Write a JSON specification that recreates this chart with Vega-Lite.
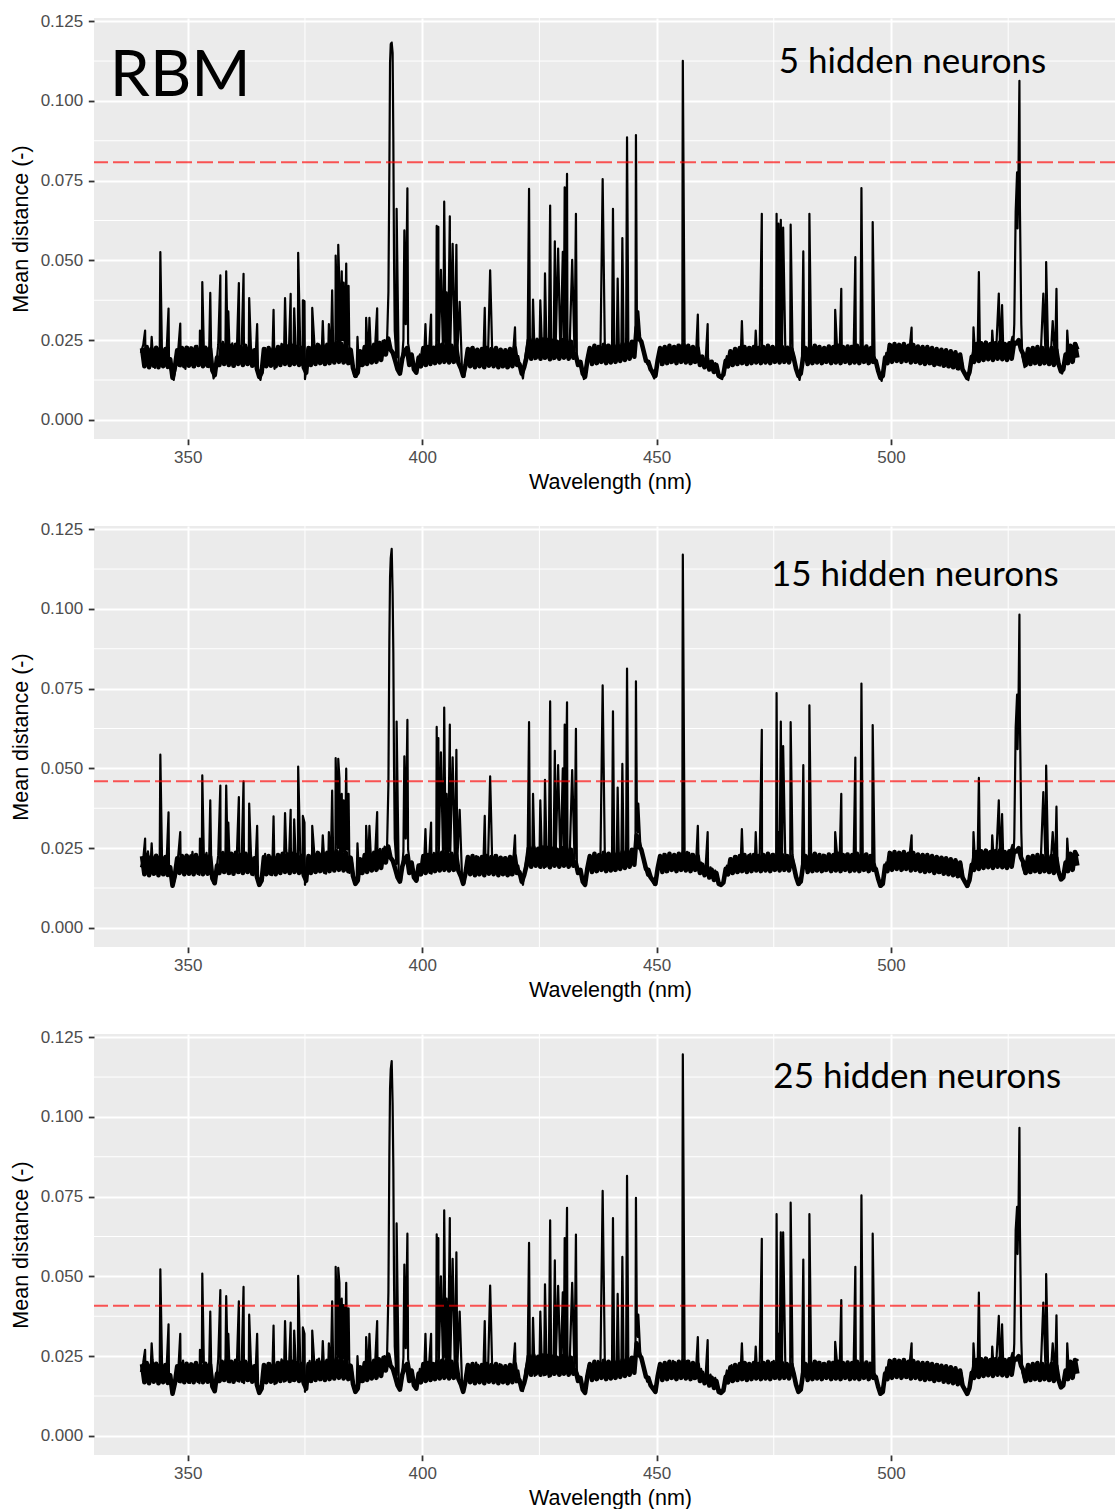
{
"$schema": "https://vega.github.io/schema/vega-lite/v6.json",
"padding": {"left": 10, "top": 12, "right": 0, "bottom": 0},
"bounds": "flush",
"spacing": 87,
"config": {
 "view": {"fill": "#EBEBEB", "stroke": null},
 "axis": {"domain": false, "grid": true, "gridColor": "#FFFFFF", "gridWidth": 2, "tickColor": "#333333", "tickWidth": 1.8, "tickSize": 5.7, "labelColor": "#4D4D4D", "labelFont": "Liberation Sans", "labelFontSize": 17, "titleFont": "Liberation Sans", "titleFontSize": 21.5, "titleFontWeight": "normal", "titleColor": "#000000"},
 "axisY": {"labelPadding": 5.6, "titlePadding": 6.5, "minExtent": 55, "maxExtent": 55},
 "axisX": {"labelPadding": 4.7, "titlePadding": 6}
},
"datasets": {
 "one": [{}],
 "mx": [{"mx": 375}, {"mx": 425}, {"mx": 475}, {"mx": 525}],
 "my": [{"my": 0.0125}, {"my": 0.0375}, {"my": 0.0625}, {"my": 0.0875}, {"my": 0.1125}],
 "fill": [
{"w":340.25,"v":0.0225},{"w":340.75,"v":0.0168},{"w":341.25,"v":0.0228},{"w":341.75,"v":0.0165},
{"w":342.25,"v":0.0222},{"w":342.75,"v":0.017},{"w":343.25,"v":0.0226},{"w":343.75,"v":0.0165},
{"w":344.25,"v":0.0224},{"w":344.75,"v":0.0168},{"w":345.25,"v":0.0222},{"w":345.75,"v":0.0166},
{"w":346.25,"v":0.019},{"w":346.75,"v":0.0132},{"w":347.25,"v":0.0165},{"w":347.75,"v":0.0218},
{"w":348.25,"v":0.0172},{"w":348.75,"v":0.0225},{"w":349.25,"v":0.0168},{"w":349.75,"v":0.0226},
{"w":350.25,"v":0.017},{"w":350.75,"v":0.0224},{"w":351.25,"v":0.0168},{"w":351.75,"v":0.0228},
{"w":352.25,"v":0.0172},{"w":352.75,"v":0.0222},{"w":353.25,"v":0.0168},{"w":353.75,"v":0.0226},
{"w":354.25,"v":0.017},{"w":354.75,"v":0.0224},{"w":355.25,"v":0.0155},{"w":355.75,"v":0.014},
{"w":356.25,"v":0.0195},{"w":356.75,"v":0.0172},{"w":357.25,"v":0.0232},{"w":357.75,"v":0.0175},
{"w":358.25,"v":0.0235},{"w":358.75,"v":0.0172},{"w":359.25,"v":0.0232},{"w":359.75,"v":0.017},
{"w":360.25,"v":0.0235},{"w":360.75,"v":0.0175},{"w":361.25,"v":0.0228},{"w":361.75,"v":0.0172},
{"w":362.25,"v":0.0232},{"w":362.75,"v":0.0175},{"w":363.25,"v":0.0225},{"w":363.75,"v":0.017},
{"w":364.25,"v":0.0218},{"w":364.75,"v":0.016},{"w":365.25,"v":0.0135},{"w":365.75,"v":0.0148},
{"w":366.25,"v":0.0222},{"w":366.75,"v":0.0168},{"w":367.25,"v":0.0225},{"w":367.75,"v":0.017},
{"w":368.25,"v":0.0222},{"w":368.75,"v":0.0168},{"w":369.25,"v":0.0228},{"w":369.75,"v":0.0172},
{"w":370.25,"v":0.0232},{"w":370.75,"v":0.0175},{"w":371.25,"v":0.023},{"w":371.75,"v":0.0172},
{"w":372.25,"v":0.0232},{"w":372.75,"v":0.0175},{"w":373.25,"v":0.0228},{"w":373.75,"v":0.0172},
{"w":374.25,"v":0.0225},{"w":374.75,"v":0.0165},{"w":375.25,"v":0.0148},{"w":375.75,"v":0.0225},
{"w":376.25,"v":0.0172},{"w":376.75,"v":0.0232},{"w":377.25,"v":0.0175},{"w":377.75,"v":0.0235},
{"w":378.25,"v":0.0178},{"w":378.75,"v":0.0232},{"w":379.25,"v":0.0175},{"w":379.75,"v":0.0235},
{"w":380.25,"v":0.0178},{"w":380.75,"v":0.0238},{"w":381.25,"v":0.018},{"w":381.75,"v":0.024},
{"w":382.25,"v":0.0182},{"w":382.75,"v":0.0238},{"w":383.25,"v":0.018},{"w":383.75,"v":0.0235},
{"w":384.25,"v":0.0178},{"w":384.75,"v":0.022},{"w":385.25,"v":0.0162},{"w":385.75,"v":0.0138},
{"w":386.25,"v":0.0148},{"w":386.75,"v":0.0215},{"w":387.25,"v":0.0172},{"w":387.75,"v":0.0228},
{"w":388.25,"v":0.0175},{"w":388.75,"v":0.023},{"w":389.25,"v":0.018},{"w":389.75,"v":0.0235},
{"w":390.25,"v":0.0182},{"w":390.75,"v":0.024},{"w":391.25,"v":0.0188},{"w":391.75,"v":0.0245},
{"w":392.25,"v":0.0205},{"w":392.75,"v":0.0255},{"w":393.25,"v":0.022},{"w":393.75,"v":0.021},
{"w":394.25,"v":0.0185},{"w":394.75,"v":0.0158},{"w":395.25,"v":0.0145},{"w":395.75,"v":0.0192},
{"w":396.25,"v":0.0215},{"w":396.75,"v":0.0225},{"w":397.25,"v":0.0172},{"w":397.75,"v":0.0205},
{"w":398.25,"v":0.0158},{"w":398.75,"v":0.0148},{"w":399.25,"v":0.0195},{"w":399.75,"v":0.0168},
{"w":400.25,"v":0.0225},{"w":400.75,"v":0.0172},{"w":401.25,"v":0.0228},{"w":401.75,"v":0.0175},
{"w":402.25,"v":0.0225},{"w":402.75,"v":0.0178},{"w":403.25,"v":0.0232},{"w":403.75,"v":0.018},
{"w":404.25,"v":0.0235},{"w":404.75,"v":0.0182},{"w":405.25,"v":0.0238},{"w":405.75,"v":0.018},
{"w":406.25,"v":0.0232},{"w":406.75,"v":0.0182},{"w":407.25,"v":0.0228},{"w":407.75,"v":0.0178},
{"w":408.25,"v":0.0162},{"w":408.75,"v":0.0138},{"w":409.25,"v":0.0172},{"w":409.75,"v":0.0222},
{"w":410.25,"v":0.0168},{"w":410.75,"v":0.0225},{"w":411.25,"v":0.0165},{"w":411.75,"v":0.022},
{"w":412.25,"v":0.0168},{"w":412.75,"v":0.0222},{"w":413.25,"v":0.0165},{"w":413.75,"v":0.0225},
{"w":414.25,"v":0.017},{"w":414.75,"v":0.0222},{"w":415.25,"v":0.0168},{"w":415.75,"v":0.0225},
{"w":416.25,"v":0.0165},{"w":416.75,"v":0.022},{"w":417.25,"v":0.0168},{"w":417.75,"v":0.0218},
{"w":418.25,"v":0.0165},{"w":418.75,"v":0.0222},{"w":419.25,"v":0.0168},{"w":419.75,"v":0.0225},
{"w":420.25,"v":0.0172},{"w":420.75,"v":0.0175},{"w":421.25,"v":0.0145},{"w":421.75,"v":0.0165},
{"w":422.25,"v":0.0195},{"w":422.75,"v":0.025},{"w":423.25,"v":0.0192},{"w":423.75,"v":0.0252},
{"w":424.25,"v":0.0195},{"w":424.75,"v":0.0248},{"w":425.25,"v":0.0192},{"w":425.75,"v":0.0252},
{"w":426.25,"v":0.0195},{"w":426.75,"v":0.025},{"w":427.25,"v":0.019},{"w":427.75,"v":0.0248},
{"w":428.25,"v":0.0195},{"w":428.75,"v":0.0245},{"w":429.25,"v":0.0192},{"w":429.75,"v":0.025},
{"w":430.25,"v":0.0195},{"w":430.75,"v":0.0248},{"w":431.25,"v":0.0192},{"w":431.75,"v":0.0245},
{"w":432.25,"v":0.0195},{"w":432.75,"v":0.0205},{"w":433.25,"v":0.0172},{"w":433.75,"v":0.0182},
{"w":434.25,"v":0.0145},{"w":434.75,"v":0.0135},{"w":435.25,"v":0.0188},{"w":435.75,"v":0.0225},
{"w":436.25,"v":0.0175},{"w":436.75,"v":0.0232},{"w":437.25,"v":0.0178},{"w":437.75,"v":0.0228},
{"w":438.25,"v":0.0182},{"w":438.75,"v":0.0235},{"w":439.25,"v":0.0178},{"w":439.75,"v":0.0232},
{"w":440.25,"v":0.018},{"w":440.75,"v":0.0235},{"w":441.25,"v":0.0182},{"w":441.75,"v":0.0232},
{"w":442.25,"v":0.0185},{"w":442.75,"v":0.0238},{"w":443.25,"v":0.0188},{"w":443.75,"v":0.024},
{"w":444.25,"v":0.0192},{"w":444.75,"v":0.0245},{"w":445.25,"v":0.0198},{"w":445.75,"v":0.029},
{"w":446.25,"v":0.0255},{"w":446.75,"v":0.0245},{"w":447.25,"v":0.0215},{"w":447.75,"v":0.0185},
{"w":448.25,"v":0.0182},{"w":448.75,"v":0.0158},{"w":449.25,"v":0.0148},{"w":449.75,"v":0.0138},
{"w":450.25,"v":0.0188},{"w":450.75,"v":0.0225},{"w":451.25,"v":0.0175},{"w":451.75,"v":0.0228},
{"w":452.25,"v":0.0178},{"w":452.75,"v":0.0232},{"w":453.25,"v":0.0182},{"w":453.75,"v":0.0228},
{"w":454.25,"v":0.0178},{"w":454.75,"v":0.0232},{"w":455.25,"v":0.0182},{"w":455.75,"v":0.0235},
{"w":456.25,"v":0.018},{"w":456.75,"v":0.0232},{"w":457.25,"v":0.0178},{"w":457.75,"v":0.0228},
{"w":458.25,"v":0.0182},{"w":458.75,"v":0.0225},{"w":459.25,"v":0.0172},{"w":459.75,"v":0.0198},
{"w":460.25,"v":0.0165},{"w":460.75,"v":0.0192},{"w":461.25,"v":0.0158},{"w":461.75,"v":0.0182},
{"w":462.25,"v":0.015},{"w":462.75,"v":0.0172},{"w":463.25,"v":0.0138},{"w":463.75,"v":0.0135},
{"w":464.25,"v":0.0142},{"w":464.75,"v":0.0185},{"w":465.25,"v":0.0168},{"w":465.75,"v":0.0215},
{"w":466.25,"v":0.0172},{"w":466.75,"v":0.0222},{"w":467.25,"v":0.0175},{"w":467.75,"v":0.0225},
{"w":468.25,"v":0.0178},{"w":468.75,"v":0.0228},{"w":469.25,"v":0.0175},{"w":469.75,"v":0.0225},
{"w":470.25,"v":0.0178},{"w":470.75,"v":0.0228},{"w":471.25,"v":0.018},{"w":471.75,"v":0.0225},
{"w":472.25,"v":0.0178},{"w":472.75,"v":0.0228},{"w":473.25,"v":0.018},{"w":473.75,"v":0.0232},
{"w":474.25,"v":0.0178},{"w":474.75,"v":0.0228},{"w":475.25,"v":0.0182},{"w":475.75,"v":0.0225},
{"w":476.25,"v":0.018},{"w":476.75,"v":0.0228},{"w":477.25,"v":0.0182},{"w":477.75,"v":0.0225},
{"w":478.25,"v":0.018},{"w":478.75,"v":0.0222},{"w":479.25,"v":0.0195},{"w":479.75,"v":0.016},
{"w":480.25,"v":0.0138},{"w":480.75,"v":0.0145},{"w":481.25,"v":0.0195},{"w":481.75,"v":0.0225},
{"w":482.25,"v":0.0175},{"w":482.75,"v":0.0228},{"w":483.25,"v":0.0178},{"w":483.75,"v":0.0232},
{"w":484.25,"v":0.018},{"w":484.75,"v":0.0228},{"w":485.25,"v":0.0178},{"w":485.75,"v":0.0225},
{"w":486.25,"v":0.0182},{"w":486.75,"v":0.023},{"w":487.25,"v":0.0178},{"w":487.75,"v":0.0228},
{"w":488.25,"v":0.018},{"w":488.75,"v":0.0232},{"w":489.25,"v":0.0178},{"w":489.75,"v":0.0228},
{"w":490.25,"v":0.0182},{"w":490.75,"v":0.023},{"w":491.25,"v":0.0178},{"w":491.75,"v":0.0228},
{"w":492.25,"v":0.018},{"w":492.75,"v":0.0232},{"w":493.25,"v":0.0178},{"w":493.75,"v":0.0228},
{"w":494.25,"v":0.0182},{"w":494.75,"v":0.023},{"w":495.25,"v":0.0178},{"w":495.75,"v":0.0225},
{"w":496.25,"v":0.0182},{"w":496.75,"v":0.0185},{"w":497.25,"v":0.0155},{"w":497.75,"v":0.0132},
{"w":498.25,"v":0.0138},{"w":498.75,"v":0.0195},{"w":499.25,"v":0.0178},{"w":499.75,"v":0.0235},
{"w":500.25,"v":0.0182},{"w":500.75,"v":0.0238},{"w":501.25,"v":0.0185},{"w":501.75,"v":0.0235},
{"w":502.25,"v":0.0182},{"w":502.75,"v":0.0238},{"w":503.25,"v":0.0185},{"w":503.75,"v":0.0232},
{"w":504.25,"v":0.018},{"w":504.75,"v":0.0235},{"w":505.25,"v":0.0182},{"w":505.75,"v":0.023},
{"w":506.25,"v":0.0178},{"w":506.75,"v":0.0228},{"w":507.25,"v":0.0175},{"w":507.75,"v":0.0228},
{"w":508.25,"v":0.0178},{"w":508.75,"v":0.0225},{"w":509.25,"v":0.0172},{"w":509.75,"v":0.0222},
{"w":510.25,"v":0.0175},{"w":510.75,"v":0.022},{"w":511.25,"v":0.017},{"w":511.75,"v":0.0218},
{"w":512.25,"v":0.0168},{"w":512.75,"v":0.0215},{"w":513.25,"v":0.0165},{"w":513.75,"v":0.0212},
{"w":514.25,"v":0.0162},{"w":514.75,"v":0.0205},{"w":515.25,"v":0.0158},{"w":515.75,"v":0.0145},
{"w":516.25,"v":0.0132},{"w":516.75,"v":0.015},{"w":517.25,"v":0.0198},{"w":517.75,"v":0.0182},
{"w":518.25,"v":0.0238},{"w":518.75,"v":0.0185},{"w":519.25,"v":0.024},{"w":519.75,"v":0.0188},
{"w":520.25,"v":0.0242},{"w":520.75,"v":0.019},{"w":521.25,"v":0.0238},{"w":521.75,"v":0.0188},
{"w":522.25,"v":0.024},{"w":522.75,"v":0.0192},{"w":523.25,"v":0.0242},{"w":523.75,"v":0.019},
{"w":524.25,"v":0.0238},{"w":524.75,"v":0.0188},{"w":525.25,"v":0.024},{"w":525.75,"v":0.0192},
{"w":526.25,"v":0.0242},{"w":526.75,"v":0.024},{"w":527.25,"v":0.025},{"w":527.75,"v":0.022},
{"w":528.25,"v":0.0205},{"w":528.75,"v":0.0172},{"w":529.25,"v":0.0222},{"w":529.75,"v":0.0175},
{"w":530.25,"v":0.0225},{"w":530.75,"v":0.0178},{"w":531.25,"v":0.0228},{"w":531.75,"v":0.0175},
{"w":532.25,"v":0.0225},{"w":532.75,"v":0.0178},{"w":533.25,"v":0.0222},{"w":533.75,"v":0.0175},
{"w":534.25,"v":0.0225},{"w":534.75,"v":0.0172},{"w":535.25,"v":0.022},{"w":535.75,"v":0.0175},
{"w":536.25,"v":0.0152},{"w":536.75,"v":0.0158},{"w":537.25,"v":0.0205},{"w":537.75,"v":0.0178},
{"w":538.25,"v":0.0232},{"w":538.75,"v":0.0182},{"w":539.25,"v":0.0238},{"w":539.75,"v":0.0195}
 ],
 "spec": [
{"w":340,"a":0.021,"b":0.019,"c":0.02},
{"w":340.5,"a":0.0235,"b":0.0215,"c":0.023},
{"w":340.9,"a":0.028,"b":0.028,"c":0.027},
{"w":341,"a":0.0175,"b":0.0172,"c":0.0168},
{"w":341.5,"a":0.0222,"b":0.024,"c":0.0226},
{"w":342,"a":0.0168,"b":0.018,"c":0.0172},
{"w":342.3,"a":0.026,"b":0.0265,"c":0.029},
{"w":342.5,"a":0.0215,"b":0.0205,"c":0.0238},
{"w":343,"a":0.0163,"b":0.0168,"c":0.0175},
{"w":343.5,"a":0.0226,"b":0.0222,"c":0.0218},
{"w":344,"a":0.017,"b":0.0175,"c":0.0166},
{"w":344.15,"a":0.0526,"b":0.0543,"c":0.0522},
{"w":344.5,"a":0.0208,"b":0.0225,"c":0.0232},
{"w":345,"a":0.0172,"b":0.0165,"c":0.017},
{"w":345.5,"a":0.0218,"b":0.021,"c":0.0215},
{"w":345.9,"a":0.0349,"b":0.0362,"c":0.035},
{"w":346,"a":0.018,"b":0.0185,"c":0.0176},
{"w":346.5,"a":0.015,"b":0.0155,"c":0.016},
{"w":347,"a":0.0125,"b":0.0138,"c":0.0148},
{"w":347.5,"a":0.0172,"b":0.0168,"c":0.0175},
{"w":348,"a":0.0225,"b":0.0232,"c":0.021},
{"w":348.4,"a":0.0302,"b":0.03,"c":0.032},
{"w":348.5,"a":0.0168,"b":0.0178,"c":0.0168},
{"w":349,"a":0.0214,"b":0.0215,"c":0.0236},
{"w":349.5,"a":0.016,"b":0.017,"c":0.0172},
{"w":350,"a":0.0228,"b":0.0226,"c":0.0215},
{"w":350.5,"a":0.0175,"b":0.0168,"c":0.0166},
{"w":351,"a":0.022,"b":0.0238,"c":0.0225},
{"w":351.5,"a":0.0165,"b":0.0172,"c":0.0174},
{"w":352,"a":0.0232,"b":0.0215,"c":0.0218},
{"w":352.5,"a":0.017,"b":0.0166,"c":0.0165},
{"w":352.6,"a":0.028,"b":0.028,"c":0.027},
{"w":353,"a":0.0215,"b":0.0222,"c":0.023},
{"w":353.1,"a":0.0432,"b":0.0478,"c":0.0509},
{"w":353.5,"a":0.0178,"b":0.0175,"c":0.017},
{"w":354,"a":0.0226,"b":0.0235,"c":0.0222},
{"w":354.5,"a":0.0165,"b":0.017,"c":0.0168},
{"w":354.8,"a":0.0398,"b":0.04,"c":0.039},
{"w":355,"a":0.02,"b":0.0205,"c":0.0215},
{"w":355.5,"a":0.013,"b":0.014,"c":0.0145},
{"w":356,"a":0.016,"b":0.0165,"c":0.016},
{"w":356.5,"a":0.0235,"b":0.0228,"c":0.024},
{"w":356.95,"a":0.0453,"b":0.0446,"c":0.0457},
{"w":357,"a":0.018,"b":0.0175,"c":0.0172},
{"w":357.5,"a":0.0245,"b":0.0238,"c":0.023},
{"w":358,"a":0.0185,"b":0.0178,"c":0.018},
{"w":358.2,"a":0.0466,"b":0.0446,"c":0.0438},
{"w":358.5,"a":0.0228,"b":0.0225,"c":0.0235},
{"w":358.65,"a":0.034,"b":0.033,"c":0.032},
{"w":359,"a":0.0175,"b":0.017,"c":0.0168},
{"w":359.5,"a":0.024,"b":0.0232,"c":0.0225},
{"w":360,"a":0.0168,"b":0.0175,"c":0.0172},
{"w":360.5,"a":0.023,"b":0.024,"c":0.0236},
{"w":360.9,"a":0.0429,"b":0.041,"c":0.0422},
{"w":361,"a":0.0178,"b":0.0172,"c":0.017},
{"w":361.5,"a":0.0235,"b":0.022,"c":0.0226},
{"w":361.9,"a":0.0458,"b":0.0459,"c":0.0467},
{"w":362,"a":0.0172,"b":0.018,"c":0.0165},
{"w":362.5,"a":0.0228,"b":0.0235,"c":0.0232},
{"w":363,"a":0.0175,"b":0.018,"c":0.0172},
{"w":363.1,"a":0.0382,"b":0.039,"c":0.038},
{"w":363.5,"a":0.0215,"b":0.0222,"c":0.0218},
{"w":364,"a":0.0168,"b":0.0165,"c":0.017},
{"w":364.5,"a":0.0205,"b":0.0215,"c":0.0212},
{"w":364.8,"a":0.03,"b":0.032,"c":0.032},
{"w":365,"a":0.015,"b":0.0158,"c":0.016},
{"w":365.5,"a":0.0125,"b":0.0135,"c":0.0138},
{"w":366,"a":0.0165,"b":0.017,"c":0.0168},
{"w":366.5,"a":0.0225,"b":0.0232,"c":0.022},
{"w":367,"a":0.017,"b":0.0168,"c":0.0175},
{"w":367.5,"a":0.0205,"b":0.0218,"c":0.0228},
{"w":368,"a":0.0172,"b":0.0165,"c":0.017},
{"w":368.3,"a":0.0345,"b":0.035,"c":0.0346},
{"w":368.5,"a":0.016,"b":0.0175,"c":0.0162},
{"w":369,"a":0.0225,"b":0.0215,"c":0.023},
{"w":369.5,"a":0.018,"b":0.0172,"c":0.0175},
{"w":370,"a":0.0238,"b":0.023,"c":0.024},
{"w":370.5,"a":0.0178,"b":0.0182,"c":0.017},
{"w":370.75,"a":0.0382,"b":0.036,"c":0.036},
{"w":371,"a":0.0232,"b":0.0245,"c":0.0226},
{"w":371.5,"a":0.0182,"b":0.0175,"c":0.0178},
{"w":371.95,"a":0.0395,"b":0.037,"c":0.0355},
{"w":372,"a":0.0225,"b":0.0235,"c":0.0238},
{"w":372.5,"a":0.0175,"b":0.018,"c":0.0172},
{"w":372.7,"a":0.035,"b":0.034,"c":0.033},
{"w":373,"a":0.023,"b":0.0225,"c":0.0235},
{"w":373.5,"a":0.0185,"b":0.0178,"c":0.0182},
{"w":373.55,"a":0.0524,"b":0.0506,"c":0.0502},
{"w":374,"a":0.022,"b":0.0232,"c":0.0226},
{"w":374.5,"a":0.0172,"b":0.017,"c":0.0168},
{"w":374.55,"a":0.0375,"b":0.0351,"c":0.034},
{"w":374.9,"a":0.0372,"b":0.033,"c":0.032},
{"w":375,"a":0.0128,"b":0.0135,"c":0.0138},
{"w":375.5,"a":0.018,"b":0.0175,"c":0.0178},
{"w":376,"a":0.0228,"b":0.0222,"c":0.0235},
{"w":376.5,"a":0.0175,"b":0.018,"c":0.017},
{"w":376.55,"a":0.0351,"b":0.032,"c":0.033},
{"w":377,"a":0.024,"b":0.0232,"c":0.0226},
{"w":377.5,"a":0.018,"b":0.0176,"c":0.0178},
{"w":378,"a":0.0235,"b":0.0228,"c":0.0242},
{"w":378.5,"a":0.0178,"b":0.0182,"c":0.0175},
{"w":378.8,"a":0.031,"b":0.029,"c":0.0297},
{"w":379,"a":0.023,"b":0.024,"c":0.0232},
{"w":379.5,"a":0.0175,"b":0.017,"c":0.0178},
{"w":380,"a":0.0238,"b":0.0228,"c":0.0236},
{"w":380.1,"a":0.03,"b":0.03,"c":0.029},
{"w":380.5,"a":0.0182,"b":0.0185,"c":0.018},
{"w":380.8,"a":0.0406,"b":0.043,"c":0.0422},
{"w":381,"a":0.0245,"b":0.024,"c":0.0238},
{"w":381.5,"a":0.019,"b":0.0195,"c":0.0188},
{"w":381.55,"a":0.0515,"b":0.0532,"c":0.053},
{"w":382,"a":0.024,"b":0.025,"c":0.0245},
{"w":382.1,"a":0.0549,"b":0.053,"c":0.0527},
{"w":382.35,"a":0.042,"b":0.047,"c":0.048},
{"w":382.5,"a":0.0185,"b":0.019,"c":0.0195},
{"w":382.85,"a":0.0466,"b":0.042,"c":0.043},
{"w":383,"a":0.025,"b":0.024,"c":0.0242},
{"w":383.25,"a":0.043,"b":0.04,"c":0.041},
{"w":383.5,"a":0.018,"b":0.0185,"c":0.019},
{"w":383.8,"a":0.049,"b":0.0499,"c":0.048},
{"w":384,"a":0.0235,"b":0.0245,"c":0.0238},
{"w":384.3,"a":0.042,"b":0.042,"c":0.04},
{"w":384.5,"a":0.0175,"b":0.0172,"c":0.018},
{"w":385,"a":0.02,"b":0.021,"c":0.0205},
{"w":385.5,"a":0.0138,"b":0.015,"c":0.0148},
{"w":386,"a":0.0135,"b":0.014,"c":0.014},
{"w":386.2,"a":0.026,"b":0.0265,"c":0.025},
{"w":386.5,"a":0.0165,"b":0.017,"c":0.016},
{"w":387,"a":0.021,"b":0.0205,"c":0.0215},
{"w":387.5,"a":0.0172,"b":0.0178,"c":0.017},
{"w":388,"a":0.023,"b":0.0225,"c":0.0235},
{"w":388.05,"a":0.032,"b":0.032,"c":0.031},
{"w":388.5,"a":0.0178,"b":0.0182,"c":0.0175},
{"w":388.75,"a":0.032,"b":0.032,"c":0.032},
{"w":389,"a":0.0232,"b":0.024,"c":0.023},
{"w":389.5,"a":0.0185,"b":0.018,"c":0.0186},
{"w":390,"a":0.024,"b":0.0235,"c":0.0238},
{"w":390.4,"a":0.035,"b":0.0363,"c":0.036},
{"w":390.5,"a":0.019,"b":0.0185,"c":0.0192},
{"w":391,"a":0.0245,"b":0.0248,"c":0.024},
{"w":391.5,"a":0.02,"b":0.0205,"c":0.0198},
{"w":392,"a":0.025,"b":0.0255,"c":0.025},
{"w":392.5,"a":0.024,"b":0.0245,"c":0.024},
{"w":392.8,"a":0.04,"b":0.045,"c":0.045},
{"w":393,"a":0.078,"b":0.09,"c":0.088},
{"w":393.15,"a":0.112,"b":0.11,"c":0.109},
{"w":393.3,"a":0.1178,"b":0.116,"c":0.115},
{"w":393.5,"a":0.1183,"b":0.1188,"c":0.1175},
{"w":393.7,"a":0.115,"b":0.105,"c":0.104},
{"w":393.85,"a":0.088,"b":0.086,"c":0.084},
{"w":394,"a":0.05,"b":0.05,"c":0.048},
{"w":394.15,"a":0.028,"b":0.028,"c":0.028},
{"w":394.5,"a":0.0195,"b":0.02,"c":0.019},
{"w":394.55,"a":0.0662,"b":0.0647,"c":0.0666},
{"w":395,"a":0.016,"b":0.0165,"c":0.017},
{"w":395.5,"a":0.015,"b":0.0148,"c":0.0155},
{"w":396,"a":0.025,"b":0.024,"c":0.0245},
{"w":396.2,"a":0.0594,"b":0.0538,"c":0.0537},
{"w":396.5,"a":0.03,"b":0.028,"c":0.0275},
{"w":396.85,"a":0.0726,"b":0.0652,"c":0.0634},
{"w":397,"a":0.024,"b":0.0245,"c":0.024},
{"w":397.5,"a":0.0195,"b":0.019,"c":0.02},
{"w":398,"a":0.0175,"b":0.018,"c":0.0178},
{"w":398.5,"a":0.015,"b":0.0165,"c":0.016},
{"w":399,"a":0.016,"b":0.015,"c":0.0158},
{"w":399.5,"a":0.0205,"b":0.02,"c":0.021},
{"w":400,"a":0.0175,"b":0.0172,"c":0.018},
{"w":400.5,"a":0.0222,"b":0.023,"c":0.0225},
{"w":400.7,"a":0.03,"b":0.031,"c":0.032},
{"w":401,"a":0.017,"b":0.0175,"c":0.0172},
{"w":401.5,"a":0.0225,"b":0.022,"c":0.023},
{"w":401.9,"a":0.033,"b":0.033,"c":0.032},
{"w":402,"a":0.0178,"b":0.017,"c":0.0175},
{"w":402.5,"a":0.023,"b":0.0235,"c":0.0228},
{"w":403,"a":0.018,"b":0.0185,"c":0.019},
{"w":403.1,"a":0.0608,"b":0.063,"c":0.0632},
{"w":403.3,"a":0.025,"b":0.026,"c":0.027},
{"w":403.45,"a":0.0605,"b":0.0595,"c":0.062},
{"w":403.5,"a":0.0195,"b":0.02,"c":0.0205},
{"w":404,"a":0.047,"b":0.055,"c":0.05},
{"w":404.5,"a":0.0185,"b":0.019,"c":0.0195},
{"w":404.7,"a":0.0684,"b":0.0691,"c":0.0707},
{"w":405,"a":0.024,"b":0.0235,"c":0.0245},
{"w":405.2,"a":0.04,"b":0.042,"c":0.043},
{"w":405.5,"a":0.0195,"b":0.019,"c":0.02},
{"w":405.9,"a":0.0638,"b":0.0637,"c":0.0683},
{"w":406,"a":0.023,"b":0.024,"c":0.0235},
{"w":406.5,"a":0.0552,"b":0.0535,"c":0.0555},
{"w":407,"a":0.019,"b":0.0195,"c":0.0188},
{"w":407.3,"a":0.0549,"b":0.0558,"c":0.0575},
{"w":407.5,"a":0.021,"b":0.0215,"c":0.022},
{"w":408,"a":0.037,"b":0.037,"c":0.039},
{"w":408.5,"a":0.0155,"b":0.016,"c":0.0165},
{"w":409,"a":0.0135,"b":0.014,"c":0.015},
{"w":409.5,"a":0.021,"b":0.0205,"c":0.0215},
{"w":410,"a":0.017,"b":0.0175,"c":0.0168},
{"w":410.5,"a":0.0225,"b":0.0218,"c":0.0222},
{"w":411,"a":0.0168,"b":0.0172,"c":0.0175},
{"w":411.5,"a":0.0218,"b":0.0225,"c":0.023},
{"w":412,"a":0.0172,"b":0.0165,"c":0.017},
{"w":412.5,"a":0.0215,"b":0.022,"c":0.0212},
{"w":413,"a":0.0165,"b":0.017,"c":0.0172},
{"w":413.35,"a":0.0351,"b":0.0351,"c":0.036},
{"w":413.5,"a":0.022,"b":0.0215,"c":0.0225},
{"w":414,"a":0.0175,"b":0.0178,"c":0.017},
{"w":414.5,"a":0.0469,"b":0.0475,"c":0.0471},
{"w":415,"a":0.018,"b":0.0172,"c":0.0175},
{"w":415.5,"a":0.0222,"b":0.0228,"c":0.022},
{"w":416,"a":0.0168,"b":0.017,"c":0.0175},
{"w":416.5,"a":0.0215,"b":0.0212,"c":0.0225},
{"w":417,"a":0.0165,"b":0.0168,"c":0.017},
{"w":417.5,"a":0.0212,"b":0.022,"c":0.0215},
{"w":418,"a":0.0162,"b":0.0165,"c":0.0168},
{"w":418.5,"a":0.0218,"b":0.021,"c":0.0212},
{"w":419,"a":0.017,"b":0.0165,"c":0.0172},
{"w":419.5,"a":0.023,"b":0.0225,"c":0.0228},
{"w":419.8,"a":0.029,"b":0.029,"c":0.029},
{"w":420,"a":0.0175,"b":0.017,"c":0.0168},
{"w":420.5,"a":0.02,"b":0.0195,"c":0.0205},
{"w":421,"a":0.016,"b":0.0158,"c":0.0162},
{"w":421.5,"a":0.013,"b":0.0135,"c":0.014},
{"w":422,"a":0.02,"b":0.0195,"c":0.0205},
{"w":422.5,"a":0.0245,"b":0.0235,"c":0.024},
{"w":422.8,"a":0.0724,"b":0.0645,"c":0.0605},
{"w":423,"a":0.0195,"b":0.02,"c":0.019},
{"w":423.5,"a":0.025,"b":0.024,"c":0.0245},
{"w":423.65,"a":0.0377,"b":0.042,"c":0.037},
{"w":424,"a":0.019,"b":0.0195,"c":0.0188},
{"w":424.5,"a":0.0255,"b":0.0245,"c":0.024},
{"w":425,"a":0.0195,"b":0.019,"c":0.0198},
{"w":425.2,"a":0.0375,"b":0.04,"c":0.039},
{"w":425.5,"a":0.0248,"b":0.024,"c":0.0235},
{"w":426,"a":0.0192,"b":0.0188,"c":0.019},
{"w":426.2,"a":0.0459,"b":0.0464,"c":0.0475},
{"w":426.5,"a":0.024,"b":0.025,"c":0.0245},
{"w":427,"a":0.0195,"b":0.019,"c":0.0185},
{"w":427.3,"a":0.0672,"b":0.071,"c":0.0676},
{"w":427.5,"a":0.025,"b":0.0235,"c":0.024},
{"w":428,"a":0.019,"b":0.0195,"c":0.0192},
{"w":428.3,"a":0.056,"b":0.0555,"c":0.055},
{"w":428.5,"a":0.0245,"b":0.024,"c":0.0238},
{"w":429,"a":0.0537,"b":0.051,"c":0.047},
{"w":429.5,"a":0.02,"b":0.0195,"c":0.019},
{"w":430,"a":0.0527,"b":0.05,"c":0.045},
{"w":430.2,"a":0.021,"b":0.0205,"c":0.02},
{"w":430.4,"a":0.0729,"b":0.0637,"c":0.062},
{"w":430.5,"a":0.023,"b":0.0235,"c":0.0228},
{"w":430.9,"a":0.0771,"b":0.0707,"c":0.0715},
{"w":431,"a":0.02,"b":0.0195,"c":0.0205},
{"w":431.5,"a":0.025,"b":0.024,"c":0.0245},
{"w":432,"a":0.0502,"b":0.0495,"c":0.048},
{"w":432.5,"a":0.021,"b":0.0215,"c":0.0205},
{"w":432.8,"a":0.0646,"b":0.0624,"c":0.0631},
{"w":433,"a":0.019,"b":0.0195,"c":0.02},
{"w":433.5,"a":0.0175,"b":0.018,"c":0.0185},
{"w":434,"a":0.016,"b":0.0165,"c":0.017},
{"w":434.5,"a":0.0128,"b":0.014,"c":0.0145},
{"w":435,"a":0.0175,"b":0.017,"c":0.0175},
{"w":435.5,"a":0.0215,"b":0.021,"c":0.022},
{"w":436,"a":0.018,"b":0.0175,"c":0.0182},
{"w":436.5,"a":0.0228,"b":0.0225,"c":0.022},
{"w":437,"a":0.0185,"b":0.0182,"c":0.0178},
{"w":437.5,"a":0.0232,"b":0.0228,"c":0.0235},
{"w":438,"a":0.018,"b":0.0185,"c":0.019},
{"w":438.5,"a":0.0755,"b":0.076,"c":0.0768},
{"w":439,"a":0.0185,"b":0.018,"c":0.0188},
{"w":439.5,"a":0.0235,"b":0.023,"c":0.0225},
{"w":440,"a":0.0182,"b":0.0188,"c":0.0185},
{"w":440.5,"a":0.023,"b":0.0238,"c":0.0232},
{"w":440.7,"a":0.0662,"b":0.0679,"c":0.0683},
{"w":441,"a":0.0185,"b":0.018,"c":0.0182},
{"w":441.5,"a":0.0225,"b":0.0228,"c":0.023},
{"w":441.7,"a":0.0443,"b":0.044,"c":0.0445},
{"w":442,"a":0.019,"b":0.0185,"c":0.0188},
{"w":442.5,"a":0.0232,"b":0.0235,"c":0.0228},
{"w":442.7,"a":0.057,"b":0.0514,"c":0.0561},
{"w":443,"a":0.0195,"b":0.019,"c":0.0192},
{"w":443.5,"a":0.023,"b":0.024,"c":0.0235},
{"w":443.7,"a":0.0886,"b":0.0813,"c":0.0815},
{"w":444,"a":0.02,"b":0.0195,"c":0.019},
{"w":444.5,"a":0.024,"b":0.0235,"c":0.0245},
{"w":445,"a":0.021,"b":0.0205,"c":0.02},
{"w":445.5,"a":0.025,"b":0.024,"c":0.0245},
{"w":445.6,"a":0.0893,"b":0.0773,"c":0.0746},
{"w":445.8,"a":0.033,"b":0.036,"c":0.035},
{"w":446,"a":0.028,"b":0.03,"c":0.031},
{"w":446.1,"a":0.034,"b":0.039,"c":0.038},
{"w":446.5,"a":0.026,"b":0.027,"c":0.0265},
{"w":447,"a":0.022,"b":0.023,"c":0.0225},
{"w":447.5,"a":0.02,"b":0.019,"c":0.0195},
{"w":448,"a":0.0175,"b":0.0165,"c":0.017},
{"w":448.5,"a":0.017,"b":0.016,"c":0.0168},
{"w":449,"a":0.0145,"b":0.015,"c":0.0155},
{"w":449.5,"a":0.013,"b":0.0135,"c":0.014},
{"w":450,"a":0.016,"b":0.017,"c":0.0165},
{"w":450.5,"a":0.021,"b":0.0205,"c":0.0215},
{"w":451,"a":0.0172,"b":0.0178,"c":0.0175},
{"w":451.5,"a":0.0228,"b":0.0232,"c":0.0225},
{"w":452,"a":0.018,"b":0.0175,"c":0.0182},
{"w":452.5,"a":0.0225,"b":0.022,"c":0.023},
{"w":453,"a":0.0178,"b":0.0185,"c":0.018},
{"w":453.5,"a":0.023,"b":0.0228,"c":0.0235},
{"w":454,"a":0.0182,"b":0.018,"c":0.0178},
{"w":454.5,"a":0.0235,"b":0.023,"c":0.0228},
{"w":455,"a":0.0185,"b":0.0182,"c":0.0188},
{"w":455.5,"a":0.0225,"b":0.0235,"c":0.023},
{"w":455.55,"a":0.081,"b":0.086,"c":0.088},
{"w":455.6,"a":0.1126,"b":0.117,"c":0.1196},
{"w":456,"a":0.019,"b":0.0185,"c":0.0192},
{"w":456.5,"a":0.023,"b":0.0238,"c":0.0235},
{"w":457,"a":0.0182,"b":0.018,"c":0.0185},
{"w":457.5,"a":0.0228,"b":0.0232,"c":0.0225},
{"w":458,"a":0.018,"b":0.0185,"c":0.0178},
{"w":458.5,"a":0.0232,"b":0.0225,"c":0.023},
{"w":458.8,"a":0.033,"b":0.032,"c":0.031},
{"w":459,"a":0.0178,"b":0.0175,"c":0.018},
{"w":459.5,"a":0.02,"b":0.0205,"c":0.021},
{"w":460,"a":0.0165,"b":0.0168,"c":0.017},
{"w":460.5,"a":0.0195,"b":0.02,"c":0.0198},
{"w":460.9,"a":0.03,"b":0.03,"c":0.03},
{"w":461,"a":0.016,"b":0.0158,"c":0.0165},
{"w":461.5,"a":0.0185,"b":0.019,"c":0.0192},
{"w":462,"a":0.015,"b":0.0155,"c":0.0158},
{"w":462.5,"a":0.0178,"b":0.018,"c":0.0182},
{"w":463,"a":0.014,"b":0.0148,"c":0.015},
{"w":463.5,"a":0.0132,"b":0.014,"c":0.0145},
{"w":464,"a":0.0128,"b":0.0135,"c":0.014},
{"w":464.5,"a":0.0165,"b":0.016,"c":0.0168},
{"w":465,"a":0.02,"b":0.0195,"c":0.0205},
{"w":465.5,"a":0.0172,"b":0.017,"c":0.0175},
{"w":466,"a":0.0215,"b":0.0218,"c":0.0222},
{"w":466.5,"a":0.0175,"b":0.0178,"c":0.0172},
{"w":467,"a":0.022,"b":0.0225,"c":0.0218},
{"w":467.5,"a":0.0178,"b":0.0175,"c":0.018},
{"w":468,"a":0.0222,"b":0.0228,"c":0.0225},
{"w":468.2,"a":0.031,"b":0.031,"c":0.029},
{"w":468.5,"a":0.018,"b":0.0182,"c":0.0178},
{"w":469,"a":0.0225,"b":0.0222,"c":0.023},
{"w":469.5,"a":0.0182,"b":0.0178,"c":0.018},
{"w":470,"a":0.0228,"b":0.0232,"c":0.0225},
{"w":470.5,"a":0.018,"b":0.0185,"c":0.0182},
{"w":471,"a":0.0225,"b":0.0222,"c":0.0228},
{"w":471.15,"a":0.028,"b":0.03,"c":0.028},
{"w":471.5,"a":0.0182,"b":0.0178,"c":0.0185},
{"w":472,"a":0.0228,"b":0.023,"c":0.0225},
{"w":472.45,"a":0.0646,"b":0.0621,"c":0.0618},
{"w":472.5,"a":0.0185,"b":0.0182,"c":0.018},
{"w":473,"a":0.0225,"b":0.0228,"c":0.023},
{"w":473.5,"a":0.0182,"b":0.0185,"c":0.018},
{"w":474,"a":0.023,"b":0.0225,"c":0.0228},
{"w":474.5,"a":0.0185,"b":0.018,"c":0.0182},
{"w":475,"a":0.0228,"b":0.0232,"c":0.0235},
{"w":475.5,"a":0.0188,"b":0.0185,"c":0.018},
{"w":475.6,"a":0.0646,"b":0.0736,"c":0.0695},
{"w":475.8,"a":0.02,"b":0.0195,"c":0.0198},
{"w":476,"a":0.0615,"b":0.03,"c":0.032},
{"w":476.25,"a":0.02,"b":0.0205,"c":0.0198},
{"w":476.5,"a":0.0627,"b":0.0647,"c":0.0638},
{"w":476.75,"a":0.0205,"b":0.02,"c":0.021},
{"w":477,"a":0.0603,"b":0.057,"c":0.0638},
{"w":477.5,"a":0.019,"b":0.0185,"c":0.0192},
{"w":478,"a":0.023,"b":0.0228,"c":0.0225},
{"w":478.5,"a":0.0185,"b":0.019,"c":0.0182},
{"w":478.6,"a":0.0612,"b":0.0645,"c":0.0731},
{"w":479,"a":0.0225,"b":0.023,"c":0.0228},
{"w":479.5,"a":0.017,"b":0.0175,"c":0.0172},
{"w":480,"a":0.015,"b":0.0155,"c":0.0158},
{"w":480.5,"a":0.0125,"b":0.0135,"c":0.014},
{"w":481,"a":0.017,"b":0.0168,"c":0.0175},
{"w":481.3,"a":0.0528,"b":0.051,"c":0.0553},
{"w":481.5,"a":0.0205,"b":0.021,"c":0.02},
{"w":482,"a":0.018,"b":0.0185,"c":0.0182},
{"w":482.5,"a":0.0225,"b":0.022,"c":0.0228},
{"w":482.6,"a":0.0646,"b":0.0698,"c":0.0695},
{"w":483,"a":0.0185,"b":0.0182,"c":0.018},
{"w":483.5,"a":0.0228,"b":0.0232,"c":0.0225},
{"w":484,"a":0.0182,"b":0.0178,"c":0.0185},
{"w":484.5,"a":0.023,"b":0.0225,"c":0.0232},
{"w":485,"a":0.0185,"b":0.0188,"c":0.018},
{"w":485.5,"a":0.0225,"b":0.023,"c":0.0228},
{"w":486,"a":0.018,"b":0.0178,"c":0.0182},
{"w":486.5,"a":0.0228,"b":0.0225,"c":0.0222},
{"w":487,"a":0.0182,"b":0.0185,"c":0.018},
{"w":487.5,"a":0.023,"b":0.0228,"c":0.0232},
{"w":488,"a":0.0185,"b":0.018,"c":0.0182},
{"w":488.1,"a":0.0345,"b":0.03,"c":0.0295},
{"w":488.5,"a":0.0225,"b":0.023,"c":0.0228},
{"w":489,"a":0.0182,"b":0.0185,"c":0.018},
{"w":489.4,"a":0.0411,"b":0.042,"c":0.0426},
{"w":489.5,"a":0.023,"b":0.0225,"c":0.0232},
{"w":490,"a":0.0185,"b":0.0182,"c":0.0188},
{"w":490.5,"a":0.0228,"b":0.0232,"c":0.0225},
{"w":491,"a":0.018,"b":0.0185,"c":0.0182},
{"w":491.5,"a":0.0232,"b":0.0228,"c":0.023},
{"w":492,"a":0.0185,"b":0.018,"c":0.0185},
{"w":492.4,"a":0.051,"b":0.0534,"c":0.053},
{"w":492.5,"a":0.0228,"b":0.023,"c":0.0225},
{"w":493,"a":0.0182,"b":0.0185,"c":0.018},
{"w":493.5,"a":0.023,"b":0.0228,"c":0.0232},
{"w":493.7,"a":0.0727,"b":0.0766,"c":0.0754},
{"w":494,"a":0.0185,"b":0.0182,"c":0.0188},
{"w":494.5,"a":0.0228,"b":0.0232,"c":0.0225},
{"w":495,"a":0.0182,"b":0.018,"c":0.0185},
{"w":495.5,"a":0.0225,"b":0.0228,"c":0.023},
{"w":496,"a":0.018,"b":0.0185,"c":0.0182},
{"w":496.1,"a":0.062,"b":0.0636,"c":0.0634},
{"w":496.5,"a":0.02,"b":0.0205,"c":0.0198},
{"w":497,"a":0.0165,"b":0.0168,"c":0.017},
{"w":497.5,"a":0.014,"b":0.0148,"c":0.015},
{"w":498,"a":0.0122,"b":0.013,"c":0.0135},
{"w":498.5,"a":0.0165,"b":0.016,"c":0.0168},
{"w":499,"a":0.021,"b":0.0205,"c":0.0215},
{"w":499.5,"a":0.0185,"b":0.019,"c":0.0182},
{"w":500,"a":0.0232,"b":0.0235,"c":0.0228},
{"w":500.5,"a":0.0188,"b":0.0185,"c":0.019},
{"w":501,"a":0.0235,"b":0.023,"c":0.0232},
{"w":501.5,"a":0.0185,"b":0.019,"c":0.0188},
{"w":502,"a":0.023,"b":0.0235,"c":0.0228},
{"w":502.5,"a":0.0188,"b":0.0182,"c":0.0185},
{"w":503,"a":0.0232,"b":0.0228,"c":0.0235},
{"w":503.5,"a":0.0185,"b":0.019,"c":0.0182},
{"w":504,"a":0.0228,"b":0.0232,"c":0.023},
{"w":504.4,"a":0.0289,"b":0.029,"c":0.029},
{"w":504.5,"a":0.0182,"b":0.0185,"c":0.018},
{"w":505,"a":0.0228,"b":0.0225,"c":0.0232},
{"w":505.5,"a":0.018,"b":0.0182,"c":0.0185},
{"w":506,"a":0.0225,"b":0.023,"c":0.0228},
{"w":506.5,"a":0.0178,"b":0.018,"c":0.0182},
{"w":507,"a":0.0222,"b":0.0228,"c":0.0225},
{"w":507.5,"a":0.0178,"b":0.0175,"c":0.018},
{"w":508,"a":0.0225,"b":0.0222,"c":0.0228},
{"w":508.5,"a":0.0175,"b":0.0178,"c":0.0175},
{"w":509,"a":0.022,"b":0.0225,"c":0.0222},
{"w":509.5,"a":0.0172,"b":0.0175,"c":0.0178},
{"w":510,"a":0.0218,"b":0.0222,"c":0.0225},
{"w":510.5,"a":0.017,"b":0.0172,"c":0.0175},
{"w":511,"a":0.0215,"b":0.022,"c":0.0218},
{"w":511.5,"a":0.0168,"b":0.017,"c":0.0172},
{"w":512,"a":0.0212,"b":0.0218,"c":0.0215},
{"w":512.5,"a":0.0165,"b":0.0168,"c":0.017},
{"w":513,"a":0.021,"b":0.0212,"c":0.0215},
{"w":513.5,"a":0.0162,"b":0.0165,"c":0.0168},
{"w":514,"a":0.0205,"b":0.021,"c":0.0208},
{"w":514.5,"a":0.0158,"b":0.016,"c":0.0162},
{"w":515,"a":0.0195,"b":0.02,"c":0.0198},
{"w":515.5,"a":0.0148,"b":0.015,"c":0.0152},
{"w":516,"a":0.0138,"b":0.014,"c":0.0142},
{"w":516.5,"a":0.0125,"b":0.013,"c":0.0132},
{"w":517,"a":0.0175,"b":0.017,"c":0.0178},
{"w":517.5,"a":0.0215,"b":0.022,"c":0.0218},
{"w":517.6,"a":0.029,"b":0.03,"c":0.029},
{"w":518,"a":0.019,"b":0.0188,"c":0.0192},
{"w":518.5,"a":0.0232,"b":0.0235,"c":0.023},
{"w":518.75,"a":0.0463,"b":0.047,"c":0.0449},
{"w":519,"a":0.0195,"b":0.019,"c":0.0198},
{"w":519.5,"a":0.0238,"b":0.0232,"c":0.0235},
{"w":520,"a":0.0192,"b":0.0195,"c":0.019},
{"w":520.5,"a":0.024,"b":0.0235,"c":0.0238},
{"w":521,"a":0.0195,"b":0.0192,"c":0.0198},
{"w":521.5,"a":0.0235,"b":0.024,"c":0.0232},
{"w":521.6,"a":0.028,"b":0.029,"c":0.028},
{"w":522,"a":0.0192,"b":0.0195,"c":0.019},
{"w":522.5,"a":0.0238,"b":0.0235,"c":0.024},
{"w":523,"a":0.0396,"b":0.04,"c":0.0376},
{"w":523.3,"a":0.02,"b":0.0198,"c":0.0195},
{"w":523.7,"a":0.036,"b":0.0357,"c":0.035},
{"w":524,"a":0.0195,"b":0.019,"c":0.0198},
{"w":524.5,"a":0.0238,"b":0.0235,"c":0.0232},
{"w":525,"a":0.0195,"b":0.0198,"c":0.0192},
{"w":525.5,"a":0.0235,"b":0.024,"c":0.0238},
{"w":525.9,"a":0.026,"b":0.026,"c":0.026},
{"w":526,"a":0.02,"b":0.0195,"c":0.02},
{"w":526.3,"a":0.03,"b":0.028,"c":0.029},
{"w":526.6,"a":0.0653,"b":0.0627,"c":0.0645},
{"w":526.9,"a":0.0776,"b":0.0731,"c":0.0718},
{"w":527,"a":0.06,"b":0.056,"c":0.057},
{"w":527.2,"a":0.078,"b":0.07,"c":0.07},
{"w":527.4,"a":0.1063,"b":0.0982,"c":0.0966},
{"w":527.5,"a":0.067,"b":0.066,"c":0.066},
{"w":527.8,"a":0.03,"b":0.03,"c":0.03},
{"w":528,"a":0.02,"b":0.0195,"c":0.02},
{"w":528.5,"a":0.0165,"b":0.017,"c":0.0168},
{"w":529,"a":0.0215,"b":0.021,"c":0.0218},
{"w":529.5,"a":0.0178,"b":0.0175,"c":0.018},
{"w":530,"a":0.0222,"b":0.0225,"c":0.022},
{"w":530.5,"a":0.018,"b":0.0178,"c":0.0182},
{"w":531,"a":0.0225,"b":0.022,"c":0.0228},
{"w":531.5,"a":0.0182,"b":0.018,"c":0.0178},
{"w":532,"a":0.0222,"b":0.0228,"c":0.0225},
{"w":532.5,"a":0.0396,"b":0.0426,"c":0.0418},
{"w":533,"a":0.019,"b":0.0185,"c":0.0192},
{"w":533.1,"a":0.0495,"b":0.0509,"c":0.0507},
{"w":533.5,"a":0.0225,"b":0.022,"c":0.0228},
{"w":534,"a":0.018,"b":0.0182,"c":0.0178},
{"w":534.5,"a":0.031,"b":0.03,"c":0.029},
{"w":535,"a":0.0185,"b":0.018,"c":0.0185},
{"w":535.3,"a":0.0411,"b":0.038,"c":0.0378},
{"w":535.5,"a":0.02,"b":0.0205,"c":0.0198},
{"w":536,"a":0.016,"b":0.0165,"c":0.0162},
{"w":536.5,"a":0.0145,"b":0.015,"c":0.0155},
{"w":537,"a":0.0175,"b":0.017,"c":0.0178},
{"w":537.5,"a":0.0215,"b":0.022,"c":0.0212},
{"w":537.6,"a":0.028,"b":0.028,"c":0.029},
{"w":538,"a":0.0182,"b":0.0185,"c":0.018},
{"w":538.5,"a":0.0228,"b":0.0225,"c":0.023},
{"w":539,"a":0.019,"b":0.0195,"c":0.0188},
{"w":539.5,"a":0.024,"b":0.0238,"c":0.0235},
{"w":540,"a":0.0222,"b":0.0225,"c":0.024}
 ]
},
"vconcat": [
 {
  "width": 1022, "height": 421,
  "layer": [
   {"data": {"name": "mx"}, "mark": {"type": "rule", "color": "#FFFFFF", "strokeWidth": 1},
    "encoding": {"x": {"field": "mx", "type": "quantitative", "scale": {"domain": [330, 548], "nice": false, "zero": false}, "axis": {"values": [350, 400, 450, 500], "title": "Wavelength (nm)", "titleX": 516}}}},
   {"data": {"name": "my"}, "mark": {"type": "rule", "color": "#FFFFFF", "strokeWidth": 1},
    "encoding": {"y": {"field": "my", "type": "quantitative", "scale": {"domain": [-0.006, 0.126], "nice": false, "zero": false}, "axis": {"values": [0, 0.025, 0.05, 0.075, 0.1, 0.125], "format": ".3f", "title": "Mean distance (-)"}}}},
   {"data": {"name": "fill"}, "mark": {"type": "line", "color": "#000000", "strokeWidth": 4.6, "strokeJoin": "round"},
    "encoding": {
     "x": {"field": "w", "type": "quantitative", "scale": {"domain": [330, 548], "nice": false, "zero": false}, "axis": {"values": [350, 400, 450, 500], "title": "Wavelength (nm)", "titleX": 516}},
     "y": {"field": "v", "type": "quantitative", "scale": {"domain": [-0.006, 0.126], "nice": false, "zero": false}, "axis": {"values": [0, 0.025, 0.05, 0.075, 0.1, 0.125], "format": ".3f", "title": "Mean distance (-)"}}}},
   {"data": {"name": "spec"}, "mark": {"type": "line", "color": "#000000", "strokeWidth": 2.2, "strokeJoin": "round"},
    "encoding": {
     "x": {"field": "w", "type": "quantitative", "scale": {"domain": [330, 548], "nice": false, "zero": false}, "axis": {"values": [350, 400, 450, 500], "title": "Wavelength (nm)", "titleX": 516}},
     "y": {"field": "a", "type": "quantitative", "scale": {"domain": [-0.006, 0.126], "nice": false, "zero": false}, "axis": {"values": [0, 0.025, 0.05, 0.075, 0.1, 0.125], "format": ".3f", "title": "Mean distance (-)"}}}},
   {"data": {"name": "one"}, "mark": {"type": "rule", "color": "red", "opacity": 0.65, "strokeWidth": 2, "strokeDash": [16, 5]},
    "encoding": {"y": {"datum": 0.0808, "type": "quantitative"}}},
   {"data": {"name": "one"}, "mark": {"type": "text", "text": "RBM", "font": "Lato", "fontSize": 64, "align": "center", "baseline": "alphabetic", "color": "#000000"},
    "encoding": {"x": {"datum": 348.4, "type": "quantitative"}, "y": {"datum": 0.1016, "type": "quantitative"}}},
   {"data": {"name": "one"}, "mark": {"type": "text", "text": "5 hidden neurons", "font": "Lato", "fontSize": 35, "align": "center", "baseline": "alphabetic", "color": "#000000"},
    "encoding": {"x": {"datum": 504.6, "type": "quantitative"}, "y": {"datum": 0.1089, "type": "quantitative"}}}
  ]
 },
 {
  "width": 1022, "height": 421,
  "layer": [
   {"data": {"name": "mx"}, "mark": {"type": "rule", "color": "#FFFFFF", "strokeWidth": 1},
    "encoding": {"x": {"field": "mx", "type": "quantitative", "scale": {"domain": [330, 548], "nice": false, "zero": false}, "axis": {"values": [350, 400, 450, 500], "title": "Wavelength (nm)", "titleX": 516}}}},
   {"data": {"name": "my"}, "mark": {"type": "rule", "color": "#FFFFFF", "strokeWidth": 1},
    "encoding": {"y": {"field": "my", "type": "quantitative", "scale": {"domain": [-0.006, 0.126], "nice": false, "zero": false}, "axis": {"values": [0, 0.025, 0.05, 0.075, 0.1, 0.125], "format": ".3f", "title": "Mean distance (-)"}}}},
   {"data": {"name": "fill"}, "mark": {"type": "line", "color": "#000000", "strokeWidth": 4.6, "strokeJoin": "round"},
    "encoding": {
     "x": {"field": "w", "type": "quantitative", "scale": {"domain": [330, 548], "nice": false, "zero": false}, "axis": {"values": [350, 400, 450, 500], "title": "Wavelength (nm)", "titleX": 516}},
     "y": {"field": "v", "type": "quantitative", "scale": {"domain": [-0.006, 0.126], "nice": false, "zero": false}, "axis": {"values": [0, 0.025, 0.05, 0.075, 0.1, 0.125], "format": ".3f", "title": "Mean distance (-)"}}}},
   {"data": {"name": "spec"}, "mark": {"type": "line", "color": "#000000", "strokeWidth": 2.2, "strokeJoin": "round"},
    "encoding": {
     "x": {"field": "w", "type": "quantitative", "scale": {"domain": [330, 548], "nice": false, "zero": false}, "axis": {"values": [350, 400, 450, 500], "title": "Wavelength (nm)", "titleX": 516}},
     "y": {"field": "b", "type": "quantitative", "scale": {"domain": [-0.006, 0.126], "nice": false, "zero": false}, "axis": {"values": [0, 0.025, 0.05, 0.075, 0.1, 0.125], "format": ".3f", "title": "Mean distance (-)"}}}},
   {"data": {"name": "one"}, "mark": {"type": "rule", "color": "red", "opacity": 0.65, "strokeWidth": 2, "strokeDash": [16, 5]},
    "encoding": {"y": {"datum": 0.046, "type": "quantitative"}}},
   {"data": {"name": "one"}, "mark": {"type": "text", "text": "15 hidden neurons", "font": "Lato", "fontSize": 35, "align": "center", "baseline": "alphabetic", "color": "#000000"},
    "encoding": {"x": {"datum": 505.1, "type": "quantitative"}, "y": {"datum": 0.1072, "type": "quantitative"}}}
  ]
 },
 {
  "width": 1022, "height": 421,
  "layer": [
   {"data": {"name": "mx"}, "mark": {"type": "rule", "color": "#FFFFFF", "strokeWidth": 1},
    "encoding": {"x": {"field": "mx", "type": "quantitative", "scale": {"domain": [330, 548], "nice": false, "zero": false}, "axis": {"values": [350, 400, 450, 500], "title": "Wavelength (nm)", "titleX": 516}}}},
   {"data": {"name": "my"}, "mark": {"type": "rule", "color": "#FFFFFF", "strokeWidth": 1},
    "encoding": {"y": {"field": "my", "type": "quantitative", "scale": {"domain": [-0.006, 0.126], "nice": false, "zero": false}, "axis": {"values": [0, 0.025, 0.05, 0.075, 0.1, 0.125], "format": ".3f", "title": "Mean distance (-)"}}}},
   {"data": {"name": "fill"}, "mark": {"type": "line", "color": "#000000", "strokeWidth": 4.6, "strokeJoin": "round"},
    "encoding": {
     "x": {"field": "w", "type": "quantitative", "scale": {"domain": [330, 548], "nice": false, "zero": false}, "axis": {"values": [350, 400, 450, 500], "title": "Wavelength (nm)", "titleX": 516}},
     "y": {"field": "v", "type": "quantitative", "scale": {"domain": [-0.006, 0.126], "nice": false, "zero": false}, "axis": {"values": [0, 0.025, 0.05, 0.075, 0.1, 0.125], "format": ".3f", "title": "Mean distance (-)"}}}},
   {"data": {"name": "spec"}, "mark": {"type": "line", "color": "#000000", "strokeWidth": 2.2, "strokeJoin": "round"},
    "encoding": {
     "x": {"field": "w", "type": "quantitative", "scale": {"domain": [330, 548], "nice": false, "zero": false}, "axis": {"values": [350, 400, 450, 500], "title": "Wavelength (nm)", "titleX": 516}},
     "y": {"field": "c", "type": "quantitative", "scale": {"domain": [-0.006, 0.126], "nice": false, "zero": false}, "axis": {"values": [0, 0.025, 0.05, 0.075, 0.1, 0.125], "format": ".3f", "title": "Mean distance (-)"}}}},
   {"data": {"name": "one"}, "mark": {"type": "rule", "color": "red", "opacity": 0.65, "strokeWidth": 2, "strokeDash": [16, 5]},
    "encoding": {"y": {"datum": 0.0408, "type": "quantitative"}}},
   {"data": {"name": "one"}, "mark": {"type": "text", "text": "25 hidden neurons", "font": "Lato", "fontSize": 35, "align": "center", "baseline": "alphabetic", "color": "#000000"},
    "encoding": {"x": {"datum": 505.6, "type": "quantitative"}, "y": {"datum": 0.109, "type": "quantitative"}}}
  ]
 }
]
}
